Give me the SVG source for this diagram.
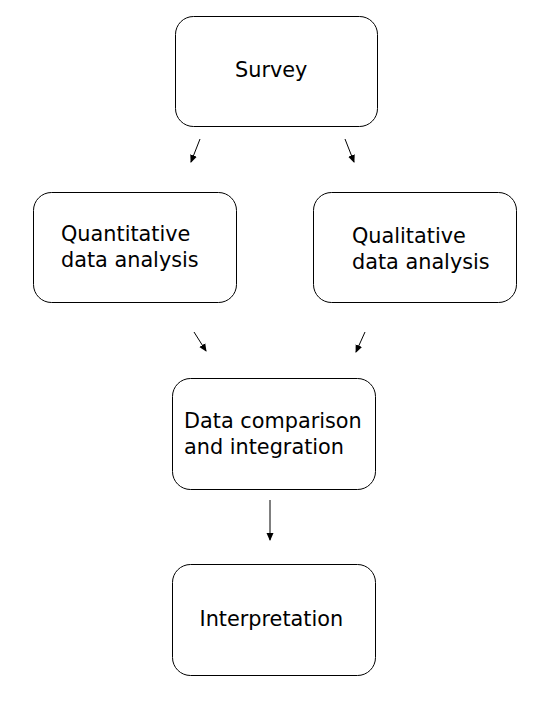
<svg xmlns="http://www.w3.org/2000/svg" width="560" height="702" viewBox="0 0 560 702">
<style>
.box{fill:#fff;stroke:#000;stroke-width:1}
.t{font-family:"DejaVu Sans",Verdana,sans-serif;font-size:20.8px;fill:#000}
.c{stroke:#000;stroke-width:1;fill:none}
</style>
<defs>
<marker id="ah" markerWidth="8" markerHeight="8" refX="7" refY="4" orient="auto" markerUnits="userSpaceOnUse">
<path d="M0,0.5 L8,4 L0,7.5 Z" fill="#000"/>
</marker>
</defs>
<rect width="560" height="702" fill="#fff"/>
<g id="survey">
<rect class="box" x="175.5" y="16.5" width="202" height="110" rx="18"/>
<text class="t" x="235" y="76.5">Survey</text>
</g>
<g id="quantitative">
<rect class="box" x="33.5" y="192.5" width="203" height="110" rx="18"/>
<text class="t" x="61" y="241">Quantitative</text>
<text class="t" x="61" y="267">data analysis</text>
</g>
<g id="qualitative">
<rect class="box" x="313.5" y="192.5" width="203" height="110" rx="18"/>
<text class="t" x="352" y="243">Qualitative</text>
<text class="t" x="352" y="269">data analysis</text>
</g>
<g id="comparison">
<rect class="box" x="172.5" y="378.5" width="203" height="111" rx="18"/>
<text class="t" x="184" y="428">Data comparison</text>
<text class="t" x="184" y="454">and integration</text>
</g>
<g id="interpretation">
<rect class="box" x="172.5" y="564.5" width="203" height="111" rx="18"/>
<text class="t" x="199.5" y="626">Interpretation</text>
</g>
<g id="connectors">
<line class="c" x1="200" y1="139" x2="191" y2="162" marker-end="url(#ah)"/>
<line class="c" x1="345" y1="139" x2="354" y2="162" marker-end="url(#ah)"/>
<line class="c" x1="194" y1="332" x2="206" y2="351" marker-end="url(#ah)"/>
<line class="c" x1="365" y1="332" x2="356" y2="352" marker-end="url(#ah)"/>
<line class="c" x1="270" y1="500" x2="270" y2="540" marker-end="url(#ah)"/>
</g>
</svg>
